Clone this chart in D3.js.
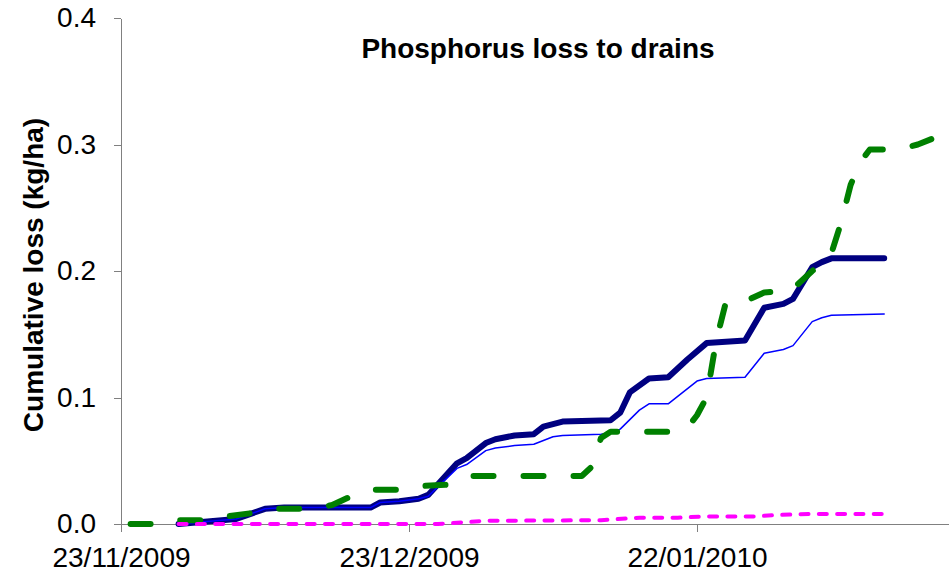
<!DOCTYPE html>
<html lang="en">
<head>
  <meta charset="UTF-8">
  <title>Phosphorus loss to drains</title>
  <script src="https://d3js.org/d3.v7.min.js"></script>
  <style>
    html, body {
      margin: 0;
      padding: 0;
      background: #fff;
      overflow: hidden;
    }
    svg {
      display: block;
      font-family: "Liberation Sans", Arial, sans-serif;
    }
    .axis path, .axis line {
      stroke: #808080;
      stroke-width: 1;
      shape-rendering: crispEdges;
    }
    .axis text {
      font-size: 28px;
      fill: #000;
    }
  </style>
</head>
<body>
<svg width="949" height="579"></svg>

<script>
  // x tick labels (every 30 days), end of the date axis, and y ticks
  const xTickLabels = ["23/11/2009", "23/12/2009", "22/01/2010"];
  const xEnd = "21/02/2010";
  const yTicks = [0, 0.1, 0.2, 0.3, 0.4];

  // thick navy series
  const navyDates = ["29/11/2009", "02/12/2009", "05/12/2009", "08/12/2009", "10/12/2009", "19/12/2009",
    "20/12/2009", "22/12/2009", "24/12/2009", "25/12/2009", "28/12/2009", "29/12/2009", "31/12/2009",
    "01/01/2010", "03/01/2010", "05/01/2010", "06/01/2010", "08/01/2010", "13/01/2010", "14/01/2010",
    "15/01/2010", "17/01/2010", "19/01/2010", "21/01/2010", "23/01/2010", "27/01/2010", "29/01/2010",
    "31/01/2010", "01/02/2010", "03/02/2010", "04/02/2010", "05/02/2010", "10/02/2010 12:00"];
  const navyValues = [0, 0.002, 0.004, 0.012, 0.013, 0.013,
    0.017, 0.018, 0.020, 0.023, 0.048, 0.052, 0.064,
    0.067, 0.070, 0.071, 0.077, 0.081, 0.082, 0.088,
    0.104, 0.115, 0.116, 0.130, 0.143, 0.145, 0.171,
    0.174, 0.178, 0.203, 0.207, 0.210, 0.210];

  // thin blue series
  const blueDates = ["29/11/2009", "02/12/2009", "05/12/2009", "08/12/2009", "10/12/2009", "19/12/2009",
    "20/12/2009", "22/12/2009", "24/12/2009", "25/12/2009", "28/12/2009", "29/12/2009", "31/12/2009",
    "01/01/2010", "03/01/2010", "05/01/2010", "07/01/2010", "08/01/2010", "12/01/2010", "13/01/2010",
    "14/01/2010", "16/01/2010", "17/01/2010", "19/01/2010", "22/01/2010", "23/01/2010", "27/01/2010",
    "29/01/2010", "31/01/2010", "01/02/2010", "03/02/2010", "04/02/2010", "05/02/2010", "10/02/2010 12:00"];
  const blueValues = [0, 0.002, 0.004, 0.012, 0.013, 0.013,
    0.017, 0.018, 0.020, 0.022, 0.044, 0.047, 0.058,
    0.060, 0.062, 0.063, 0.069, 0.070, 0.071, 0.072,
    0.075, 0.090, 0.095, 0.095, 0.113, 0.115, 0.116,
    0.135, 0.138, 0.141, 0.160, 0.163, 0.165, 0.166];

  // green dashed series
  const greenDates = ["24/11/2009", "27/11/2009", "28/11/2009", "29/11/2009", "02/12/2009", "04/12/2009",
    "07/12/2009", "09/12/2009", "13/12/2009", "15/12/2009", "17/12/2009", "19/12/2009", "22/12/2009",
    "24/12/2009", "27/12/2009", "29/12/2009", "10/01/2010", "11/01/2010", "12/01/2010", "13/01/2010",
    "19/01/2010", "21/01/2010", "22/01/2010", "23/01/2010", "24/01/2010", "25/01/2010", "27/01/2010",
    "29/01/2010", "31/01/2010", "01/02/2010", "03/02/2010", "04/02/2010", "05/02/2010", "06/02/2010",
    "07/02/2010", "08/02/2010", "09/02/2010", "11/02/2010", "13/02/2010", "14/02/2010", "16/02/2010",
    "17/02/2010", "20/02/2010"];
  const greenValues = [0, 0, 0.002, 0.003, 0.003, 0.006,
    0.009, 0.012, 0.012, 0.015, 0.022, 0.027, 0.027,
    0.030, 0.031, 0.038, 0.038, 0.045, 0.068, 0.073,
    0.073, 0.076, 0.086, 0.100, 0.145, 0.175, 0.176,
    0.183, 0.184, 0.186, 0.200, 0.206, 0.214, 0.238,
    0.268, 0.286, 0.296, 0.296, 0.298, 0.300, 0.306,
    0.308, 0.308];

  // magenta dotted series
  const pinkDates = ["29/11/2009", "26/12/2009", "28/12/2009", "31/12/2009", "12/01/2010", "16/01/2010",
    "20/01/2010", "23/01/2010", "28/01/2010", "30/01/2010", "03/02/2010", "10/02/2010 12:00"];
  const pinkValues = [0, 0, 0.001, 0.0025, 0.003, 0.005,
    0.005, 0.006, 0.006, 0.007, 0.008, 0.008];

  const parseDay = d3.timeParse("%d/%m/%Y");
  const parseHour = d3.timeParse("%d/%m/%Y %H:%M");
  const parse = s => parseHour(s) || parseDay(s);

  const svg = d3.select("svg");

  const x = d3.scaleTime()
          .domain([parse(xTickLabels[0]), parse(xEnd)])
          .range([121, 985]);

  const y = d3.scaleLinear()
          .domain([0, 0.4])
          .range([524, 18]);

  // axes
  svg.append("g")
          .attr("class", "axis")
          .attr("transform", "translate(121,0)")
          .call(d3.axisLeft(y)
                  .tickValues(yTicks)
                  .tickFormat(d3.format(".1f"))
                  .tickSize(7)
                  .tickSizeOuter(0)
                  .tickPadding(18));

  svg.append("g")
          .attr("class", "axis")
          .attr("transform", "translate(0,524)")
          .call(d3.axisBottom(x)
                  .tickValues(xTickLabels.map(parse))
                  .tickFormat(d3.timeFormat("%d/%m/%Y"))
                  .tickSize(8)
                  .tickSizeOuter(0)
                  .tickPadding(15));

  const line = d3.line()
          .x(d => x(d.date))
          .y(d => y(d.value));

  function series(dates, values) {
    return dates.map((s, i) => ({date: parse(s), value: values[i]}));
  }

  const layers = [
    {data: series(navyDates, navyValues), color: "#000080", width: 6, dash: null},
    {data: series(blueDates, blueValues), color: "#0000FF", width: 1.5, dash: null},
    {data: series(greenDates, greenValues), color: "#008000", width: 6, dash: "20 30"},
    {data: series(pinkDates, pinkValues), color: "#FF00FF", width: 4, dash: "8 10.3"}
  ];

  svg.append("g")
          .selectAll("path")
          .data(layers)
          .join("path")
          .attr("d", d => line(d.data))
          .attr("fill", "none")
          .attr("stroke", d => d.color)
          .attr("stroke-width", d => d.width)
          .attr("stroke-dasharray", d => d.dash)
          .attr("stroke-linecap", "round")
          .attr("stroke-linejoin", "round");

  // title and y label
  svg.append("text")
          .attr("x", 538)
          .attr("y", 58)
          .attr("text-anchor", "middle")
          .attr("font-size", "28px")
          .attr("font-weight", "bold")
          .text("Phosphorus loss to drains");

  svg.append("text")
          .attr("transform", "translate(43,275) rotate(-90)")
          .attr("text-anchor", "middle")
          .attr("font-size", "28px")
          .attr("font-weight", "bold")
          .text("Cumulative loss (kg/ha)");
</script>
</body>
</html>
